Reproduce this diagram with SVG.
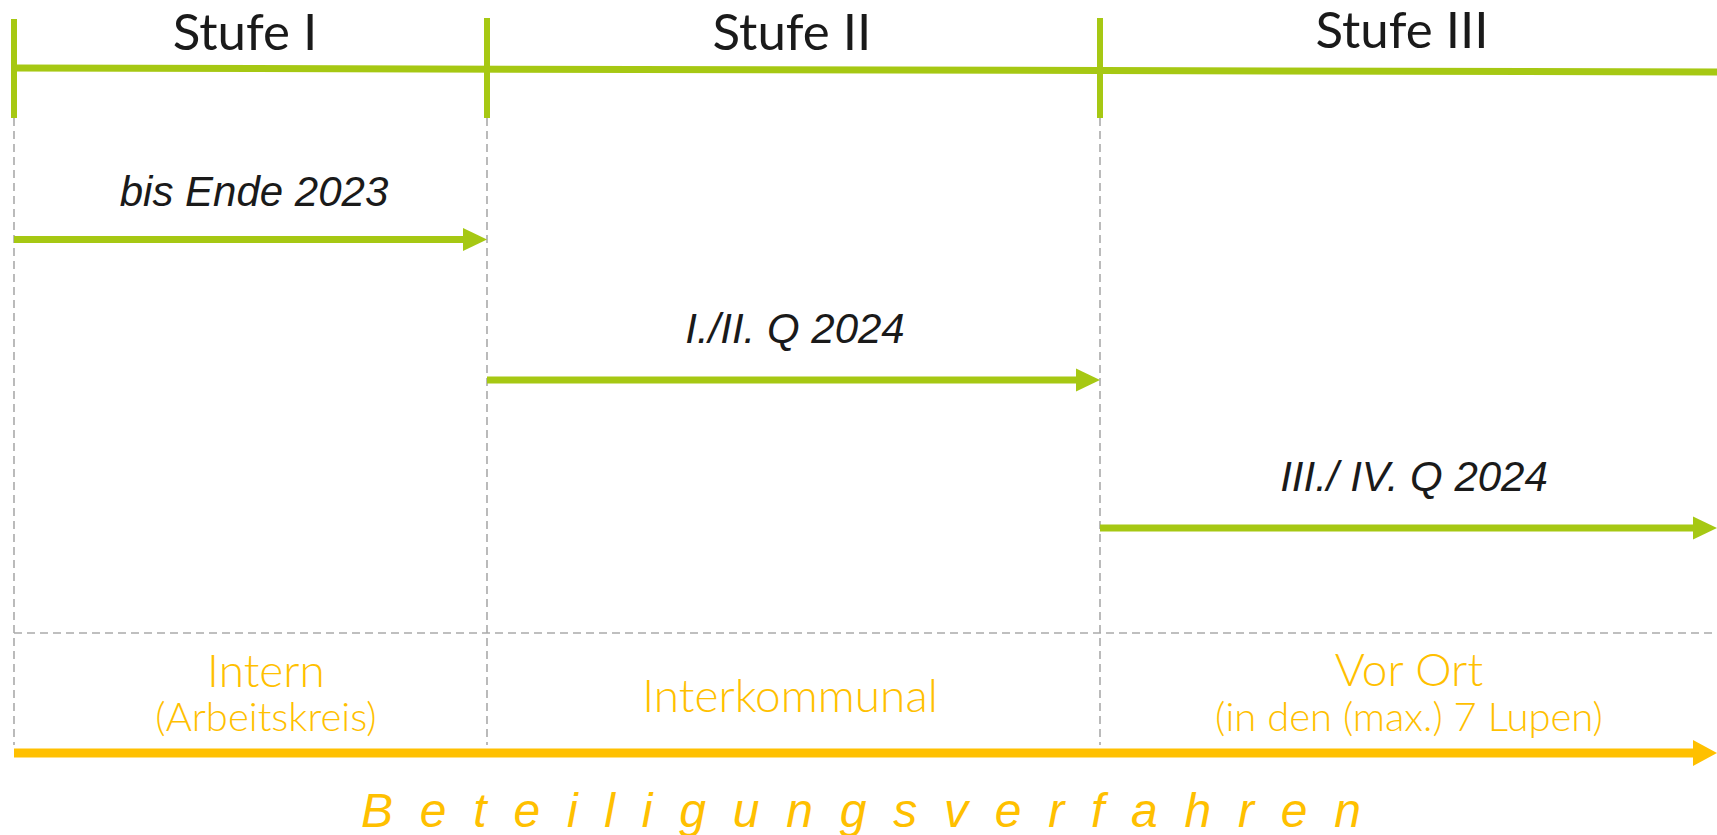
<svg xmlns="http://www.w3.org/2000/svg" width="1717" height="835" viewBox="0 0 1717 835">
<style>
.stufe{font-family:Lato,"Open Sans","Noto Sans",sans-serif;font-weight:400;font-size:51px;fill:#1a1a1a;text-anchor:middle}
.date{font-family:"Liberation Sans",Arial,sans-serif;font-style:italic;font-size:42px;fill:#1a1a1a;text-anchor:middle}
.org{font-family:Lato,"Open Sans","Noto Sans",sans-serif;font-weight:300;fill:#FFC000;text-anchor:middle}
.big{font-size:46px}
.small{font-size:40px}
.dash{stroke:#AAAAAA;stroke-width:1.6;stroke-dasharray:8 5;fill:none}
.tick{stroke:#A6C813;stroke-width:6}
.gline{stroke:#A6C813;stroke-width:7;fill:none}
.oline{stroke:#FFC000;stroke-width:9;fill:none}
.bet{font-family:"Liberation Sans",Arial,sans-serif;font-style:italic;font-size:48px;fill:#FFC000}
</style>
<rect width="1717" height="835" fill="#ffffff"/>
<g id="grid">
<line class="dash" x1="14" y1="118" x2="14" y2="745"/>
<line class="dash" x1="487" y1="118" x2="487" y2="745"/>
<line class="dash" x1="1100" y1="118" x2="1100" y2="745"/>
<line class="dash" x1="14" y1="633" x2="1717" y2="633"/>
</g>
<g id="timeline">
<line class="gline" x1="14" y1="68" x2="1717" y2="72"/>
<line class="tick" x1="14" y1="19" x2="14" y2="118"/>
<line class="tick" x1="487" y1="18" x2="487" y2="118"/>
<line class="tick" x1="1100" y1="18" x2="1100" y2="118"/>
</g>
<g id="stufe1"><text class="stufe" x="245" y="50">Stufe I</text></g>
<g id="stufe2"><text class="stufe" x="792" y="50">Stufe II</text></g>
<g id="stufe3"><text class="stufe" x="1402" y="48">Stufe III</text></g>
<g id="connectors">
<line class="gline" x1="14" y1="239.5" x2="466" y2="239.5"/>
<polygon points="463,228 487,239.5 463,251" fill="#A6C813"/>
<line class="gline" x1="487" y1="380" x2="1079" y2="380"/>
<polygon points="1076,368.5 1100,380 1076,391.5" fill="#A6C813"/>
<line class="gline" x1="1100" y1="528" x2="1696" y2="528"/>
<polygon points="1693,516.5 1717,528 1693,539.5" fill="#A6C813"/>
<line class="oline" x1="14" y1="753" x2="1696" y2="753"/>
<polygon points="1693,740 1717,753 1693,766" fill="#FFC000"/>
</g>
<g id="date1"><text class="date" x="254" y="206">bis Ende 2023</text></g>
<g id="date2"><text class="date" x="795" y="343">I./II. Q 2024</text></g>
<g id="date3"><text class="date" x="1414" y="491">III./ IV. Q 2024</text></g>
<g id="intern">
<text class="org big" x="266" y="687">Intern</text>
<text class="org small" x="266" y="731">(Arbeitskreis)</text>
</g>
<g id="interkommunal"><text class="org big" x="790" y="712">Interkommunal</text></g>
<g id="vorort">
<text class="org big" x="1409" y="686">Vor Ort</text>
<text class="org small" x="1409" y="731">(in den (max.) 7 Lupen)</text>
</g>
<g id="beteiligung"><text class="bet" x="361" y="827" textLength="1000" lengthAdjust="spacing">B e t e i l i g u n g s v e r f a h r e n</text></g>
</svg>
